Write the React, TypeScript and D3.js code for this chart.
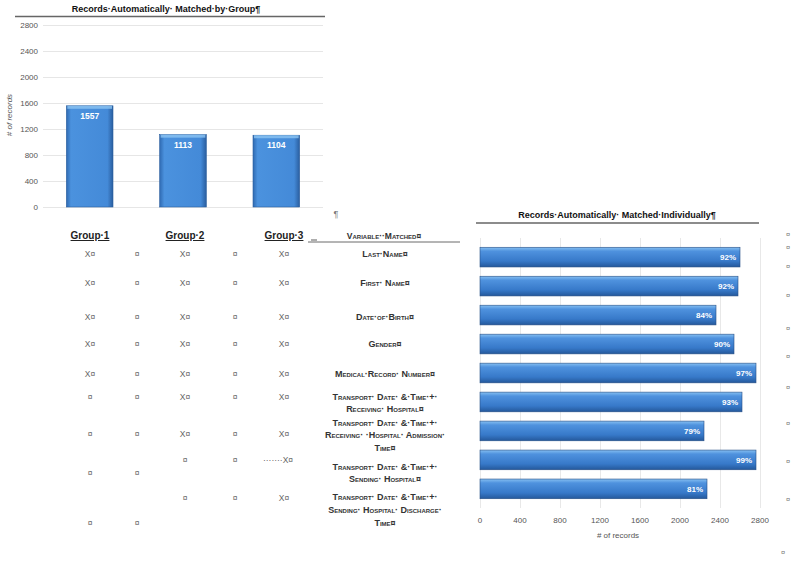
import React, { useEffect, useRef } from 'react';
import * as d3 from 'd3';

// data
const groupNames = ['Group 1', 'Group 2', 'Group 3'];
const groupCounts = [1557, 1113, 1104];
const groupTicks = [0, 400, 800, 1200, 1600, 2000, 2400, 2800];

const variableLabels = [
	['Last·Name¤'],
	['First· Name¤'],
	['Date·of·Birth¤'],
	['Gender¤'],
	['Medical·Record· Number¤'],
	['Transport· Date· &·Time·+·', 'Receiving· Hospital¤'],
	['Transport· Date· &·Time·+·', 'Receiving· ·Hospital· Admission·', 'Time¤'],
	['Transport· Date· &·Time·+·', 'Sending· Hospital¤'],
	['Transport· Date· &·Time·+·', 'Sending· Hospital· Discharge·', 'Time¤'],
];
const variableRecords = [2600, 2580, 2360, 2540, 2760, 2620, 2240, 2760, 2270];
const variablePcts = ['92%', '92%', '84%', '90%', '97%', '93%', '79%', '99%', '81%'];
const recordTicks = [0, 400, 800, 1200, 1600, 2000, 2400, 2800];

// group table marks (one row per printed line of the table)
const tableCells = [
	['X¤', '¤', 'X¤', '¤', 'X¤'],
	['X¤', '¤', 'X¤', '¤', 'X¤'],
	['X¤', '¤', 'X¤', '¤', 'X¤'],
	['X¤', '¤', 'X¤', '¤', 'X¤'],
	['X¤', '¤', 'X¤', '¤', 'X¤'],
	['¤', '¤', 'X¤', '¤', 'X¤'],
	['¤', '¤', 'X¤', '¤', 'X¤'],
	['', '', '¤', '¤', '·······X¤'],
	['¤', '¤', '', '', ''],
	['', '', '¤', '¤', 'X¤'],
	['¤', '¤', '', '', ''],
];
const tableRowY = [254, 283, 317, 344, 374, 397, 434, 460, 473, 498, 523];
const tableColX = [90, 137, 185, 235, 284];
const variableLineY = [[254], [283], [317], [344], [374], [397, 409], [423, 435, 448], [467, 479], [497, 510, 523]];
const sideMarkY = [234, 247, 266, 295, 328, 356, 387, 423, 461, 499];

const FONT = '"Liberation Sans Narrow", "Liberation Sans", Arial, sans-serif';

export default function App() {
	const svgRef = useRef<SVGSVGElement>(null);

	useEffect(() => {
		const svg = d3.select(svgRef.current);
		svg.selectAll('*').remove();

		const defs = svg.append('defs');
		const vg = defs.append('linearGradient').attr('id', 'colGrad').attr('x1', 0).attr('x2', 1).attr('y1', 0).attr('y2', 0);
		vg.append('stop').attr('offset', '0%').attr('stop-color', '#2f6ab2');
		vg.append('stop').attr('offset', '10%').attr('stop-color', '#4b92de');
		vg.append('stop').attr('offset', '88%').attr('stop-color', '#448ad8');
		vg.append('stop').attr('offset', '100%').attr('stop-color', '#2a5e9f');
		const hg = defs.append('linearGradient').attr('id', 'barGrad').attr('x1', 0).attr('x2', 0).attr('y1', 0).attr('y2', 1);
		hg.append('stop').attr('offset', '0%').attr('stop-color', '#86c0f2');
		hg.append('stop').attr('offset', '20%').attr('stop-color', '#4f92de');
		hg.append('stop').attr('offset', '70%').attr('stop-color', '#3779c9');
		hg.append('stop').attr('offset', '100%').attr('stop-color', '#24589b');

		// ---------- top: column chart ----------
		const x = d3.scaleBand().domain(groupNames).range([43, 323]).paddingInner(0.5).paddingOuter(0.25);
		const y = d3.scaleLinear().domain([0, 2800]).range([207, 25]);

		svg.append('text').attr('x', 166).attr('y', 12).attr('text-anchor', 'middle')
			.style('font', `bold 9px ${FONT}`).attr('fill', '#111').text('Records·Automatically· Matched·by·Group¶');
		svg.append('line').attr('x1', 15).attr('x2', 325).attr('y1', 16.5).attr('y2', 16.5).attr('stroke', '#666').attr('stroke-width', 1.5);

		svg.append('g').selectAll('line').data(groupTicks).join('line')
			.attr('x1', 43).attr('x2', 323).attr('y1', d => y(d) + 0.5).attr('y2', d => y(d) + 0.5)
			.attr('stroke', '#e6e6e6');
		svg.append('g').selectAll('text').data(groupTicks).join('text')
			.attr('x', 38).attr('y', d => y(d) + 3).attr('text-anchor', 'end')
			.style('font', `8px ${FONT}`).attr('fill', '#555').text(d => d);
		svg.append('text').attr('transform', 'translate(12,115) rotate(-90)').attr('text-anchor', 'middle')
			.style('font', `italic 8px ${FONT}`).attr('fill', '#555').text('# of records');

		const cols = svg.append('g').selectAll('g').data(groupNames).join('g');
		cols.append('rect')
			.attr('x', d => x(d)!).attr('width', x.bandwidth())
			.attr('y', (d, i) => y(groupCounts[i])).attr('height', (d, i) => y(0) - y(groupCounts[i]))
			.attr('fill', 'url(#colGrad)').attr('stroke', '#2b5f9e').attr('stroke-width', 0.6);
		cols.append('rect')
			.attr('x', d => x(d)! + 1).attr('width', x.bandwidth() - 2)
			.attr('y', (d, i) => y(groupCounts[i])).attr('height', 3)
			.attr('fill', '#8cc4f2').attr('opacity', 0.8);
		cols.append('text')
			.attr('x', d => x(d)! + x.bandwidth() / 2).attr('y', (d, i) => y(groupCounts[i]) + 13)
			.attr('text-anchor', 'middle').style('font', `bold 8.5px ${FONT}`).attr('fill', '#fff')
			.text((d, i) => groupCounts[i]);
		svg.append('text').attr('x', 336).attr('y', 217).attr('text-anchor', 'middle')
			.style('font', `9px ${FONT}`).attr('fill', '#777').text('¶');

		// ---------- group table ----------
		svg.append('g').selectAll('text').data(groupNames).join('text')
			.attr('x', (d, i) => tableColX[i * 2]).attr('y', 239).attr('text-anchor', 'middle')
			.attr('text-decoration', 'underline')
			.style('font', `bold 10px ${FONT}`).attr('fill', '#222').text(d => d.replace(' ', '·'));
		svg.append('line').attr('x1', 311).attr('x2', 317).attr('y1', 240).attr('y2', 240).attr('stroke', '#333').attr('stroke-width', 0.8);

		tableCells.forEach((row, r) => {
			svg.append('g').selectAll('text').data(row).join('text')
				.attr('x', (d, c) => tableColX[c] + (d.startsWith('·') ? -6 : 0)).attr('y', tableRowY[r] + 3)
				.attr('text-anchor', 'middle').style('font', `8.5px ${FONT}`).attr('fill', '#666').text(d => d);
		});

		// variable column
		svg.append('text').attr('x', 384).attr('y', 239).attr('text-anchor', 'middle')
			.style('font', `bold 8.5px ${FONT}`).style('font-variant', 'small-caps').attr('fill', '#333')
			.text('Variable··Matched¤');
		svg.append('line').attr('x1', 308).attr('x2', 460).attr('y1', 242).attr('y2', 242).attr('stroke', '#444').attr('stroke-width', 0.8);
		variableLabels.forEach((lines, i) => {
			svg.append('g').selectAll('text').data(lines).join('text')
				.attr('x', 385).attr('y', (d, j) => variableLineY[i][j] + 3).attr('text-anchor', 'middle')
				.style('font', `bold 9px ${FONT}`).style('font-variant', 'small-caps').attr('fill', '#333')
				.text(d => d);
		});

		// ---------- right: horizontal bar chart ----------
		const xr = d3.scaleLinear().domain([0, 2800]).range([480, 760]);
		const yr = d3.scaleBand().domain(variableLabels.map((d, i) => String(i))).range([238, 508]).padding(0.32);

		svg.append('text').attr('x', 617).attr('y', 218).attr('text-anchor', 'middle')
			.style('font', `bold 9px ${FONT}`).attr('fill', '#111').text('Records·Automatically· Matched·Individually¶');
		svg.append('line').attr('x1', 476).attr('x2', 759).attr('y1', 223).attr('y2', 223).attr('stroke', '#666').attr('stroke-width', 1.5);

		svg.append('g').selectAll('line').data(recordTicks).join('line')
			.attr('x1', d => xr(d) + 0.5).attr('x2', d => xr(d) + 0.5).attr('y1', 238).attr('y2', 508)
			.attr('stroke', '#e8e8e8');
		svg.append('g').selectAll('text').data(recordTicks).join('text')
			.attr('x', d => xr(d)).attr('y', 523).attr('text-anchor', 'middle')
			.style('font', `8px ${FONT}`).attr('fill', '#555').text(d => d);
		svg.append('text').attr('x', 618).attr('y', 538).attr('text-anchor', 'middle')
			.style('font', `8px ${FONT}`).attr('fill', '#555').text('# of records');

		const bars = svg.append('g').selectAll('g').data(variableRecords).join('g');
		bars.append('rect')
			.attr('x', xr(0)).attr('y', (d, i) => yr(String(i))!)
			.attr('width', d => xr(d) - xr(0)).attr('height', yr.bandwidth())
			.attr('fill', 'url(#barGrad)').attr('stroke', '#274f86').attr('stroke-width', 0.6);
		bars.append('text')
			.attr('x', d => xr(d) - 4).attr('y', (d, i) => yr(String(i))! + yr.bandwidth() / 2 + 3)
			.attr('text-anchor', 'end').style('font', `bold 8px ${FONT}`).attr('fill', '#fff')
			.text((d, i) => variablePcts[i]);

		svg.append('g').selectAll('text').data(sideMarkY).join('text')
			.attr('x', 788).attr('y', d => d + 3).attr('text-anchor', 'middle')
			.style('font', `7.5px ${FONT}`).attr('fill', '#777').text('¤');
		svg.append('text').attr('x', 783).attr('y', 555).attr('text-anchor', 'middle')
			.style('font', `7.5px ${FONT}`).attr('fill', '#777').text('¤');
	}, []);

	return (
		<svg ref={svgRef} width={800} height={562}
			style={{ position: 'absolute', left: 0, top: 0, background: '#fff' }} />
	);
}
